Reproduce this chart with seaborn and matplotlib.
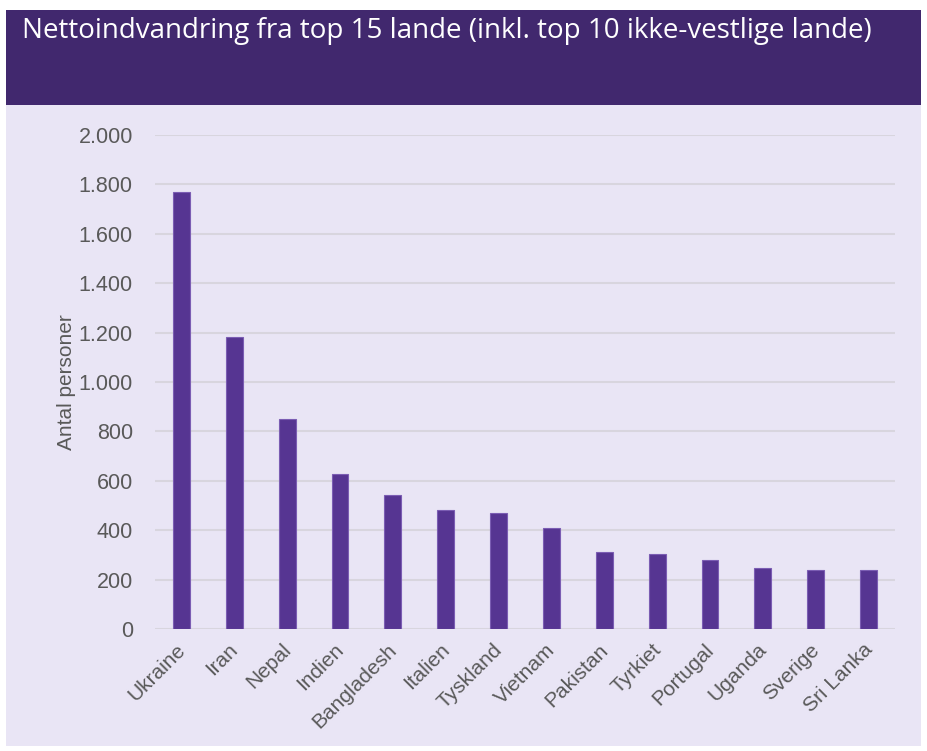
import pandas as pd
import seaborn as sns
import matplotlib.pyplot as plt
from matplotlib.patches import Rectangle
from matplotlib.transforms import ScaledTranslation

lande = ["Ukraine", "Iran", "Nepal", "Indien", "Bangladesh", "Italien", "Tyskland",
         "Vietnam", "Pakistan", "Tyrkiet", "Portugal", "Uganda", "Sverige", "Sri Lanka"]
personer = [1768, 1183, 850, 628, 543, 483, 470, 410, 312, 303, 280, 248, 240, 238]

titel = "Nettoindvandring fra top 15 lande (inkl. top 10 ikke-vestlige lande)"
y_label = "Antal personer"

sns.set_theme(style="white")
plt.rcParams['font.family'] = ['Liberation Sans', 'DejaVu Sans']

bg = "#E9E5F5"
header = "#41286E"
bar_color = "#563592"
txt = "#595959"

df = pd.DataFrame({"land": lande, "personer": personer})

fig = plt.figure(figsize=(9.27, 7.51), dpi=100)
fig.patch.set_facecolor("white")
fig.patches.append(Rectangle((6 / 927, 1 - 746 / 751), 915 / 927, (746 - 105) / 751,
                             transform=fig.transFigure, facecolor=bg, edgecolor="none", zorder=-10))
fig.patches.append(Rectangle((6 / 927, 1 - 105 / 751), 915 / 927, (105 - 10) / 751,
                             transform=fig.transFigure, facecolor=header, edgecolor="none", zorder=-10))
fig.text(22 / 927, 1 - 31 / 751, titel, color="white", fontsize=20, family="Open Sans",
         va="center", ha="left")

ax = fig.add_axes([155 / 927, 1 - 629 / 751, 740 / 927, 494 / 751])
ax.set_zorder(1)
ax.set_facecolor(bg)
sns.barplot(data=df, x="land", y="personer", color=bar_color, width=0.32,
            saturation=1, edgecolor="#7B5DB3", linewidth=0.8, ax=ax, zorder=3)
ax.set_ylim(0, 2000)
ax.set_yticks(range(0, 2001, 200))
ax.set_yticklabels([f"{v:,}".replace(",", ".") for v in range(0, 2001, 200)])
ax.yaxis.grid(True, color="#D8D5DE", linewidth=1.5, zorder=0)
ax.set_axisbelow(True)
for s in ax.spines.values():
    s.set_visible(False)
ax.set_xlabel("")
ax.set_ylabel(y_label, color=txt, fontsize=15, labelpad=2)
ax.tick_params(axis="y", colors=txt, labelsize=15.5, length=0, pad=16)
ax.tick_params(axis="x", colors=txt, labelsize=15, length=0, pad=8)
shift = ScaledTranslation(-6 / 100, 0, fig.dpi_scale_trans)
for lbl in ax.get_xticklabels():
    lbl.set_rotation(45)
    lbl.set_ha("right")
    lbl.set_rotation_mode("anchor")
    lbl.set_transform(lbl.get_transform() + shift)

fig.savefig("out.png", dpi=100)
